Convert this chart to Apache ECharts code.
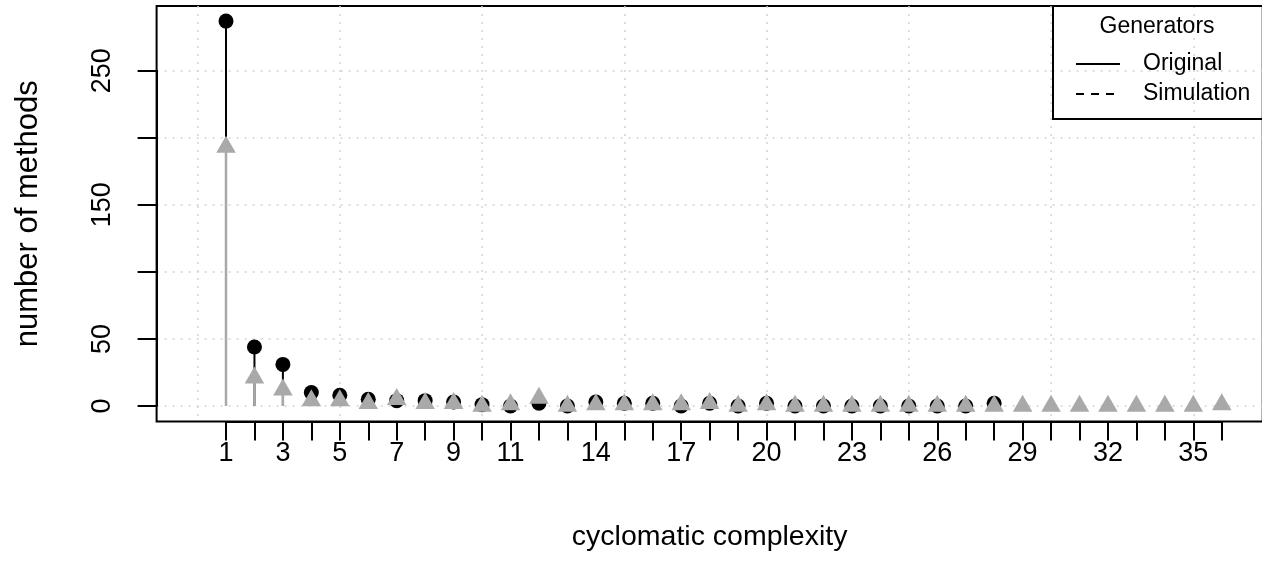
<!DOCTYPE html>
<html>
<head>
<meta charset="utf-8">
<script src="https://cdn.jsdelivr.net/npm/echarts@6/dist/echarts.min.js"></script>
<style>
html,body{margin:0;padding:0;background:#fff;}
#c{width:1262px;height:574px;}
</style>
</head>
<body>
<div id="c"></div>
<script>
// ---- data ----
const categories = [1,2,3,4,5,6,7,8,9,10,11,12,13,14,15,16,17,18,19,20,21,22,23,24,25,26,27,28,29,30,31,32,33,34,35,36];
const original = [287,44,31,10,8,5,4,4,3,1,0,2,0,3,2,2,0,2,0,2,0,0,0,0,0,0,0,2];
const simulation = [193,21,12,4,4,2,5,2,2,0,1,6,0,1,1,1,1,2,0,1,0,0,0,0,0,0,0,0,0,0,0,0,0,0,0,1];
const xTickLabels = [1,3,5,7,9,11,14,17,20,23,26,29,32,35];
const yTickLabels = [0,50,150,250];
const legendNames = ['Original','Simulation'];
const titleText = 'Generators';
const xTitle = 'cyclomatic complexity';
const yTitle = 'number of methods';

// ---- layout ----
const FONT = '"Liberation Sans", Arial, Helvetica, sans-serif';
const PX = 28.45;          // px per category
const X1 = 226;            // pixel of category 1
const Y0 = 406;            // pixel of value 0
const PY = 1.3412;         // px per unit
const BOX_L = 156.6, BOX_T = 6, BOX_R = 1262.7, BOX_B = 421.4;
const GRAY = '#A9A9A9';
const GRID_LINE = {color:'#D3D3D3', type:[2,6], width:1.5};

const origPts = original.map((v,i)=>[categories[i], v]);
const simPts = simulation.map((v,i)=>[categories[i], v]);

function stem(color, width){
  return function(params, api){
    const x = api.value(0), y = api.value(1);
    const a = api.coord([x, 0]), b = api.coord([x, y]);
    return {type:'line', shape:{x1:a[0], y1:a[1], x2:b[0], y2:b[1]},
            style:{stroke:color, lineWidth:width}};
  };
}

const chart = echarts.init(document.getElementById('c'), null, {renderer:'canvas'});
const xMinA = 1 - (X1 - BOX_L)/PX, xMaxA = 1 + (BOX_R - X1)/PX;
const yMinA = -(BOX_B - Y0)/PY, yMaxA = (Y0 - BOX_T)/PY;

chart.setOption({
  animation:false,
  backgroundColor:'#fff',
  textStyle:{fontFamily:FONT},
  title:{text:titleText, left:1099.5, top:15, padding:0,
    textStyle:{fontSize:23, fontWeight:'normal', color:'#000', fontFamily:FONT}},
  legend:{data:legendNames, orient:'vertical', left:1053, top:BOX_T, padding:[46,90,13,22],
    itemWidth:44, itemHeight:14, itemGap:6, borderColor:'#000', borderWidth:2,
    selectedMode:false,
    itemStyle:{opacity:0, color:'transparent', borderWidth:0},
    textStyle:{fontSize:23, color:'#000', fontFamily:FONT, lineHeight:24, padding:[0,0,0,18]}},
  grid:[
    {left:BOX_L, top:BOX_T, width:BOX_R-BOX_L, height:BOX_B-BOX_T, show:true,
     borderColor:'#000', borderWidth:2, backgroundColor:'transparent', outerBoundsMode:'none', containLabel:false},
    {left:X1-PX, top:BOX_T, width:35*PX, height:BOX_B-BOX_T, outerBoundsMode:'none', containLabel:false},
    {left:BOX_L, top:Y0-250*PY, width:BOX_R-BOX_L, height:250*PY, outerBoundsMode:'none', containLabel:false},
    {left:X1, top:Y0-250*PY, width:35*PX, height:250*PY, outerBoundsMode:'none', containLabel:false}
  ],
  xAxis:[
    {type:'value', gridIndex:0, min:xMinA, max:xMaxA,
     axisLine:{show:false}, axisTick:{show:false}, axisLabel:{show:false}, splitLine:{show:false},
     name:xTitle, nameLocation:'middle', nameGap:101,
     nameTextStyle:{fontSize:28.5, color:'#000', fontFamily:FONT}},
    {type:'value', gridIndex:1, min:0, max:35, interval:5,
     axisLine:{show:false}, axisTick:{show:false}, axisLabel:{show:false},
     splitLine:{show:true, lineStyle:GRID_LINE}},
    {type:'value', gridIndex:2, min:0, max:1, show:false},
    {type:'value', gridIndex:3, min:1, max:36, interval:1, offset:BOX_B-Y0,
     axisLine:{show:true, onZero:false, lineStyle:{color:'#000', width:2}},
     axisTick:{show:true, length:19, lineStyle:{color:'#000', width:2}},
     axisLabel:{show:true, fontSize:27, color:'#000', margin:19, fontFamily:FONT,
       formatter:(v)=> xTickLabels.includes(v) ? String(v) : ''},
     splitLine:{show:false}}
  ],
  yAxis:[
    {type:'value', gridIndex:0, min:yMinA, max:yMaxA,
     axisLine:{show:false}, axisTick:{show:false}, axisLabel:{show:false}, splitLine:{show:false},
     name:yTitle, nameLocation:'middle', nameGap:113, nameRotate:90,
     nameTextStyle:{fontSize:31, color:'#000', fontFamily:FONT}},
    {type:'value', gridIndex:1, min:0, max:1, show:false},
    {type:'value', gridIndex:2, min:0, max:250, interval:50,
     axisLine:{show:true, onZero:false, lineStyle:{color:'#000', width:2}},
     axisTick:{show:true, length:19, lineStyle:{color:'#000', width:2}},
     axisLabel:{show:true, rotate:90, fontSize:27, color:'#000', margin:41, fontFamily:FONT,
       formatter:(v)=> yTickLabels.includes(v) ? String(v) : ''},
     splitLine:{show:true, lineStyle:GRID_LINE}},
    {type:'value', gridIndex:3, min:0, max:250, show:false}
  ],
  series:[
    {name:'orig-stem', type:'custom', xAxisIndex:3, yAxisIndex:3, data:origPts,
     renderItem:stem('#000', 2), clip:false, silent:true},
    {name:'orig-pt', type:'scatter', xAxisIndex:3, yAxisIndex:3, data:origPts,
     symbol:'circle', symbolSize:15, itemStyle:{color:'#000', opacity:1}, clip:false, silent:true},
    {name:'sim-stem', type:'custom', xAxisIndex:3, yAxisIndex:3, data:simPts,
     renderItem:stem(GRAY, 2.5), clip:false, silent:true},
    {name:'sim-pt', type:'scatter', xAxisIndex:3, yAxisIndex:3, data:simPts,
     symbol:'triangle', symbolSize:[19.5,17], symbolOffset:[0,-2.8], itemStyle:{color:GRAY, opacity:1}, clip:false, silent:true},
    {name:'Original', type:'line', xAxisIndex:3, yAxisIndex:3, data:[], symbol:'none',
     lineStyle:{color:'#000', width:2, type:'solid', opacity:1}, itemStyle:{color:'#000'}},
    {name:'Simulation', type:'line', xAxisIndex:3, yAxisIndex:3, data:[], symbol:'none',
     lineStyle:{color:'#000', width:2, type:[8,7], opacity:1}, itemStyle:{color:'#000'}}
  ]
});
</script>
</body>
</html>
